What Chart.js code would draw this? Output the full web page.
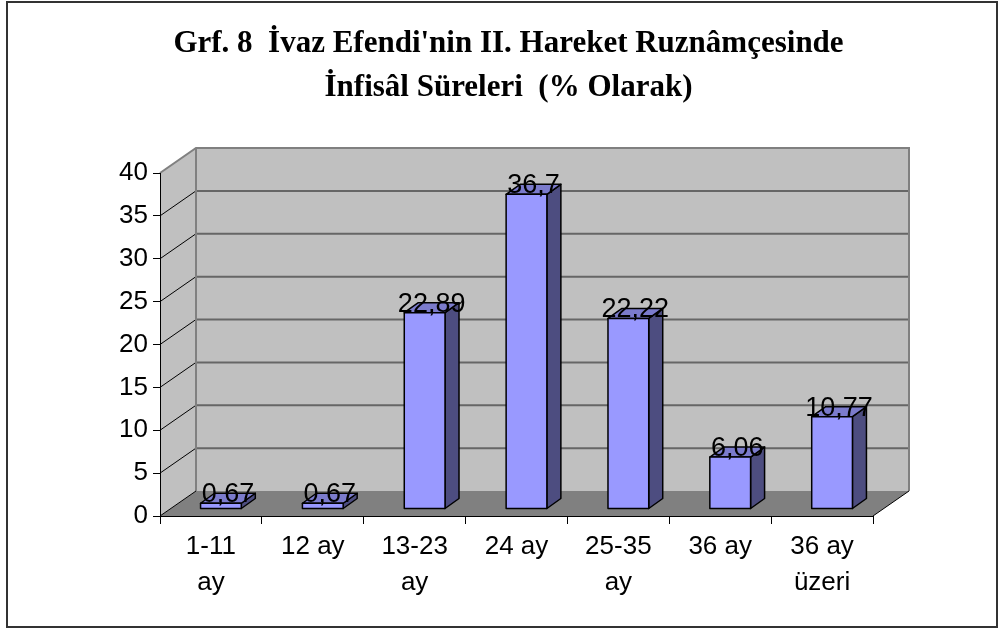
<!DOCTYPE html>
<html>
<head>
<meta charset="utf-8">
<script src="https://cdn.jsdelivr.net/npm/chart.js@4"></script>
<style>
  body { margin: 0; background: #fff; }
  canvas { display: block; }
</style>
</head>
<body>
<canvas id="chart" width="1003" height="630"></canvas>
<script>
// data
const titleLines = ["Grf. 8  İvaz Efendi'nin II. Hareket Ruznâmçesinde", "İnfisâl Süreleri  (% Olarak)"];
const categories = [["1-11", "ay"], "12 ay", ["13-23", "ay"], "24 ay", ["25-35", "ay"], "36 ay", ["36 ay", "üzeri"]];
const values = [0.67, 0.67, 22.89, 36.7, 22.22, 6.06, 10.77];
const yMin = 0;
const yMax = 40;
const yStep = 5;

// fake 3d look (Excel style)
const DEPTH_X = 36, DEPTH_Y = -25;      // floor / wall depth
const BAR_DX = 10, BAR_DY = -7;         // bar front face offset
const BAR_DEPTH_X = 14, BAR_DEPTH_Y = -10;

const fmt = v => String(v).replace('.', ',');

const walls3d = {
    id: 'walls3d',
    beforeDraw(chart) {
        const ctx = chart.ctx;
        const a = chart.chartArea;
        const y = chart.scales.y;
        ctx.save();
        ctx.fillStyle = '#fff';
        ctx.fillRect(0, 0, chart.width, chart.height);
        // outer frame
        ctx.strokeStyle = '#333';
        ctx.lineWidth = 2;
        ctx.strokeRect(7, 2, 990, 625);

        const y0 = y.getPixelForValue(yMin);
        const yTop = y.getPixelForValue(yMax);
        // back wall
        ctx.fillStyle = '#c0c0c0';
        ctx.fillRect(a.left + DEPTH_X, yTop + DEPTH_Y, a.right - a.left, y0 - yTop);
        // left wall
        ctx.beginPath();
        ctx.moveTo(a.left, yTop);
        ctx.lineTo(a.left + DEPTH_X, yTop + DEPTH_Y);
        ctx.lineTo(a.left + DEPTH_X, y0 + DEPTH_Y);
        ctx.lineTo(a.left, y0);
        ctx.closePath();
        ctx.fill();
        // floor
        ctx.fillStyle = '#808080';
        ctx.beginPath();
        ctx.moveTo(a.left, y0);
        ctx.lineTo(a.right, y0);
        ctx.lineTo(a.right + DEPTH_X, y0 + DEPTH_Y);
        ctx.lineTo(a.left + DEPTH_X, y0 + DEPTH_Y);
        ctx.closePath();
        ctx.fill();

        // grid lines
        for (let v = yMin + yStep; v < yMax; v += yStep) {
            const py = y.getPixelForValue(v);
            ctx.strokeStyle = '#666';
            ctx.lineWidth = 2;
            ctx.beginPath();
            ctx.moveTo(a.left + DEPTH_X, py + DEPTH_Y);
            ctx.lineTo(a.right + DEPTH_X, py + DEPTH_Y);
            ctx.stroke();
            ctx.strokeStyle = '#000';
            ctx.lineWidth = 1;
            ctx.beginPath();
            ctx.moveTo(a.left, py);
            ctx.lineTo(a.left + DEPTH_X, py + DEPTH_Y);
            ctx.stroke();
        }
        // wall edges
        ctx.strokeStyle = '#808080';
        ctx.lineWidth = 2;
        ctx.beginPath();
        ctx.moveTo(a.left, yTop);
        ctx.lineTo(a.left + DEPTH_X, yTop + DEPTH_Y);
        ctx.lineTo(a.right + DEPTH_X, yTop + DEPTH_Y);
        ctx.lineTo(a.right + DEPTH_X, y0 + DEPTH_Y);
        ctx.moveTo(a.left + DEPTH_X, yTop + DEPTH_Y);
        ctx.lineTo(a.left + DEPTH_X, y0 + DEPTH_Y);
        ctx.stroke();
        ctx.strokeStyle = '#000';
        ctx.lineWidth = 1;
        ctx.beginPath();
        ctx.moveTo(a.right, y0);
        ctx.lineTo(a.right + DEPTH_X, y0 + DEPTH_Y);
        ctx.moveTo(a.left, y0);
        ctx.lineTo(a.left + DEPTH_X, y0 + DEPTH_Y);
        ctx.stroke();
        ctx.restore();
    },
    afterDatasetsDraw(chart) {
        const ctx = chart.ctx;
        const meta = chart.getDatasetMeta(0);
        ctx.save();
        ctx.lineWidth = 1.5;
        ctx.strokeStyle = '#000';
        ctx.lineJoin = 'round';
        meta.data.forEach((bar, i) => {
            const p = bar.getProps(['x', 'y', 'base', 'width'], true);
            const l = p.x - p.width / 2 + BAR_DX;
            const r = p.x + p.width / 2 + BAR_DX;
            const t = p.y + BAR_DY;
            const b = p.base + BAR_DY;
            // side
            ctx.fillStyle = '#4d4d80';
            ctx.beginPath();
            ctx.moveTo(r, t);
            ctx.lineTo(r + BAR_DEPTH_X, t + BAR_DEPTH_Y);
            ctx.lineTo(r + BAR_DEPTH_X, b + BAR_DEPTH_Y);
            ctx.lineTo(r, b);
            ctx.closePath();
            ctx.fill();
            ctx.stroke();
            // top
            ctx.fillStyle = '#7b7bcc';
            ctx.beginPath();
            ctx.moveTo(l, t);
            ctx.lineTo(r, t);
            ctx.lineTo(r + BAR_DEPTH_X, t + BAR_DEPTH_Y);
            ctx.lineTo(l + BAR_DEPTH_X, t + BAR_DEPTH_Y);
            ctx.closePath();
            ctx.fill();
            ctx.stroke();
            // front
            ctx.fillStyle = '#9999ff';
            ctx.fillRect(l, t, r - l, b - t);
            ctx.strokeRect(l, t, r - l, b - t);
        });
        // value labels
        ctx.fillStyle = '#000';
        ctx.font = '27px "Liberation Sans", Arial, sans-serif';
        ctx.textAlign = 'center';
        ctx.textBaseline = 'alphabetic';
        meta.data.forEach((bar, i) => {
            const p = bar.getProps(['x', 'y'], true);
            ctx.fillText(fmt(values[i]), p.x + BAR_DX + BAR_DEPTH_X / 2, p.y + BAR_DY - 1);
        });
        ctx.restore();
    }
};

const tickFont = { family: '"Liberation Sans", Arial, sans-serif', size: 26 };

new Chart(document.getElementById('chart'), {
    type: 'bar',
    data: {
        labels: categories,
        datasets: [{
            data: values,
            backgroundColor: 'rgba(0,0,0,0)',
            borderWidth: 0,
            barPercentage: 0.4,
            categoryPercentage: 1
        }]
    },
    options: {
        responsive: false,
        animation: false,
        devicePixelRatio: 1,
        layout: { padding: { left: 14, right: 0, top: 0, bottom: 0 } },
        plugins: {
            legend: { display: false },
            tooltip: { enabled: false },
            title: {
                display: true,
                text: titleLines,
                color: '#000',
                font: { family: '"Liberation Serif", "Times New Roman", serif', size: 31, weight: 'bold', lineHeight: 44 / 31 },
                padding: { top: 22, bottom: 63 }
            }
        },
        scales: {
            x: {
                grid: { display: true, drawOnChartArea: false, drawTicks: true, tickLength: 8, color: '#000', offset: true },
                border: { display: true, color: '#000', width: 1 },
                ticks: { color: '#000', font: { ...tickFont, lineHeight: 36 / 26 }, padding: 5, maxRotation: 0, autoSkip: false },
                afterFit: s => { s.height = 114; }
            },
            y: {
                min: yMin,
                max: yMax,
                grid: { display: true, drawOnChartArea: false, drawTicks: true, tickLength: 7, color: '#000' },
                border: { display: true, color: '#000', width: 1 },
                ticks: { stepSize: yStep, color: '#000', font: tickFont, padding: 5 },
                afterFit: s => { s.width = 146; }
            },
            yRight: {
                position: 'right',
                min: yMin,
                max: yMax,
                grid: { display: false },
                border: { display: false },
                ticks: { display: false },
                afterFit: s => { s.width = 130; }
            }
        }
    },
    plugins: [walls3d]
});
</script>
</body>
</html>
